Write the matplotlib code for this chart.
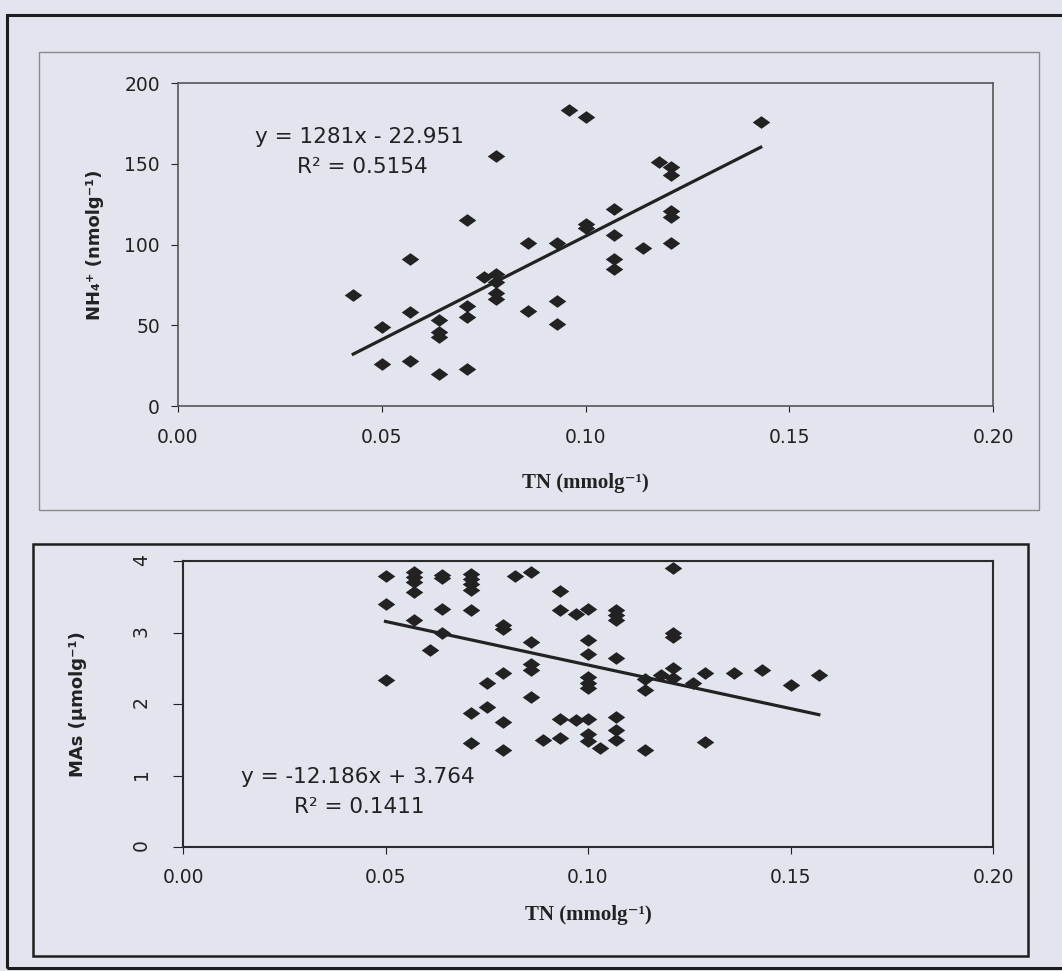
import numpy as np
import matplotlib.pyplot as plt
from matplotlib.patches import Rectangle
from matplotlib.ticker import FormatStrFormatter

# TN vs NH4+ (top panel)
tn_nh4 = [0.043, 0.050, 0.050, 0.057, 0.057, 0.057, 0.064, 0.064, 0.064, 0.064,
          0.071, 0.071, 0.071, 0.071, 0.075, 0.078, 0.078, 0.078, 0.078, 0.078,
          0.086, 0.086, 0.093, 0.093, 0.093, 0.096, 0.100, 0.100, 0.100, 0.107,
          0.107, 0.107, 0.107, 0.114, 0.118, 0.121, 0.121, 0.121, 0.121, 0.121,
          0.143]
nh4 = [69, 49, 26, 91, 58, 28, 53, 46, 43, 20,
       115, 62, 55, 23, 80, 155, 82, 77, 70, 66,
       101, 59, 101, 65, 51, 183, 179, 113, 110, 122,
       106, 91, 85, 98, 151, 148, 143, 121, 117, 101,
       176]
nh4_slope, nh4_icpt, nh4_r2 = 1281, -22.951, 0.5154

# TN vs MAs (bottom panel)
tn_mas = [0.050, 0.050, 0.050, 0.057, 0.057, 0.057, 0.057, 0.057, 0.061, 0.064,
          0.064, 0.064, 0.064, 0.071, 0.071, 0.071, 0.071, 0.071, 0.071, 0.071,
          0.075, 0.075, 0.079, 0.079, 0.079, 0.079, 0.079, 0.082, 0.086, 0.086,
          0.086, 0.086, 0.086, 0.089, 0.093, 0.093, 0.093, 0.093, 0.097, 0.097,
          0.100, 0.100, 0.100, 0.100, 0.100, 0.100, 0.100, 0.100, 0.100, 0.103,
          0.107, 0.107, 0.107, 0.107, 0.107, 0.107, 0.107, 0.114, 0.114, 0.114,
          0.118, 0.121, 0.121, 0.121, 0.121, 0.121, 0.126, 0.129, 0.129, 0.136,
          0.143, 0.150, 0.157]
mas = [3.79, 3.40, 2.34, 3.85, 3.78, 3.71, 3.57, 3.17, 2.75, 3.80,
       3.76, 3.33, 2.99, 3.82, 3.75, 3.68, 3.59, 3.31, 1.87, 1.45,
       2.30, 1.96, 3.10, 3.05, 2.44, 1.75, 1.35, 3.79, 3.85, 2.87,
       2.56, 2.47, 2.10, 1.49, 3.58, 3.32, 1.79, 1.52, 3.26, 1.77,
       3.33, 2.89, 2.70, 2.38, 2.30, 2.23, 1.79, 1.58, 1.48, 1.38,
       3.31, 3.25, 3.18, 2.65, 1.82, 1.63, 1.50, 2.35, 2.19, 1.35,
       2.41, 3.90, 3.00, 2.94, 2.50, 2.37, 2.30, 2.44, 1.47, 2.44,
       2.48, 2.27, 2.41]
mas_slope, mas_icpt, mas_r2 = -12.186, 3.764, 0.1411

x_ticks = [0.00, 0.05, 0.10, 0.15, 0.20]

bg = '#e2e5ee'
ink = '#222222'
sans = ['DejaVu Sans']
serif = ['Liberation Serif', 'DejaVu Serif']
# flattened diamond like the Excel marker
diamond = [(-1, 0), (0, 0.72), (1, 0), (0, -0.72), (-1, 0)]

W, H = 1062, 971
fig = plt.figure(figsize=(W / 100, H / 100), dpi=100, facecolor=bg)


def fbox(x0, y0, x1, y1):
    # pixel box -> figure fraction rect
    return [x0 / W, 1 - y1 / H, (x1 - x0) / W, (y1 - y0) / H]


# page frames
fig.add_artist(Rectangle((7 / W, 3 / H), 1.2, (968 - 15) / H, transform=fig.transFigure,
                         fill=False, edgecolor='#1e1e1e', lw=2.2))
r = fbox(39, 52, 1039, 510)
fig.add_artist(Rectangle(r[:2], r[2], r[3], transform=fig.transFigure,
                         fill=False, edgecolor='#8a8a8a', lw=1.0))
r = fbox(33, 544, 1028, 956)
fig.add_artist(Rectangle(r[:2], r[2], r[3], transform=fig.transFigure,
                         fill=False, edgecolor='#1e1e1e', lw=1.8))

# ---- top panel ----
ax1 = fig.add_axes(fbox(178, 83, 993, 406), facecolor=bg)
ax1.scatter(tn_nh4, nh4, marker=diamond, s=160, color=ink, zorder=3, linewidths=0)
xl = np.array([min(tn_nh4), max(tn_nh4)])
ax1.plot(xl, nh4_slope * xl + nh4_icpt, color=ink, lw=2.3)
ax1.set_xlim(0, 0.2)
ax1.set_ylim(0, 200)
ax1.set_xticks(x_ticks)
ax1.set_yticks([0, 50, 100, 150, 200])
ax1.xaxis.set_major_formatter(FormatStrFormatter('%.2f'))
for s in ax1.spines.values():
    s.set_color('#555555')
    s.set_linewidth(1.2)
ax1.tick_params(axis='x', length=4, pad=12, labelsize=13.5, colors=ink, labelfontfamily=sans)
ax1.tick_params(axis='y', length=5, pad=8, labelsize=13.5, colors=ink, labelfontfamily=sans)
ax1.text(0.223, 0.833, 'y = %gx - %g' % (nh4_slope, -nh4_icpt), transform=ax1.transAxes,
         ha='center', va='center', fontsize=15.5, color=ink, family=sans)
ax1.text(0.226, 0.740, 'R² = %.4f' % nh4_r2, transform=ax1.transAxes,
         ha='center', va='center', fontsize=15.5, color=ink, family=sans)
ax1.set_xlabel('TN (mmolg⁻¹)', fontsize=15, fontweight='bold', family=serif, color=ink, va='center')
ax1.xaxis.set_label_coords(0.5, -0.238)
ax1.set_ylabel('NH₄⁺ (nmolg⁻¹)', fontsize=13, fontweight='bold', family=sans, color=ink, va='center')
ax1.yaxis.set_label_coords(-0.102, 0.5)

# ---- bottom panel ----
ax2 = fig.add_axes(fbox(183, 561, 993, 847), facecolor=bg)
ax2.scatter(tn_mas, mas, marker=diamond, s=160, color=ink, zorder=3, linewidths=0)
xl = np.array([min(tn_mas), max(tn_mas)])
ax2.plot(xl, mas_slope * xl + mas_icpt, color=ink, lw=2.3)
ax2.set_xlim(0, 0.2)
ax2.set_ylim(0, 4)
ax2.set_xticks(x_ticks)
ax2.set_yticks([0, 1, 2, 3, 4])
ax2.xaxis.set_major_formatter(FormatStrFormatter('%.2f'))
for s in ax2.spines.values():
    s.set_color('#2a2a2a')
    s.set_linewidth(1.5)
ax2.tick_params(axis='x', length=5, pad=10, labelsize=13.5, colors=ink, labelfontfamily=sans)
ax2.tick_params(axis='y', length=7, pad=16, labelsize=13.5, colors=ink, labelfontfamily=sans,
                labelrotation=90)
ax2.text(0.216, 0.245, 'y = %gx + %g' % (mas_slope, mas_icpt), transform=ax2.transAxes,
         ha='center', va='center', fontsize=15.5, color=ink, family=sans)
ax2.text(0.217, 0.140, 'R² = %.4f' % mas_r2, transform=ax2.transAxes,
         ha='center', va='center', fontsize=15.5, color=ink, family=sans)
ax2.set_xlabel('TN (mmolg⁻¹)', fontsize=15, fontweight='bold', family=serif, color=ink, va='center')
ax2.xaxis.set_label_coords(0.5, -0.238)
ax2.set_ylabel('MAs (µmolg⁻¹)', fontsize=13, fontweight='bold', family=sans, color=ink, va='center')
ax2.yaxis.set_label_coords(-0.130, 0.5)

fig.savefig('out.png', dpi=100, facecolor=bg)
